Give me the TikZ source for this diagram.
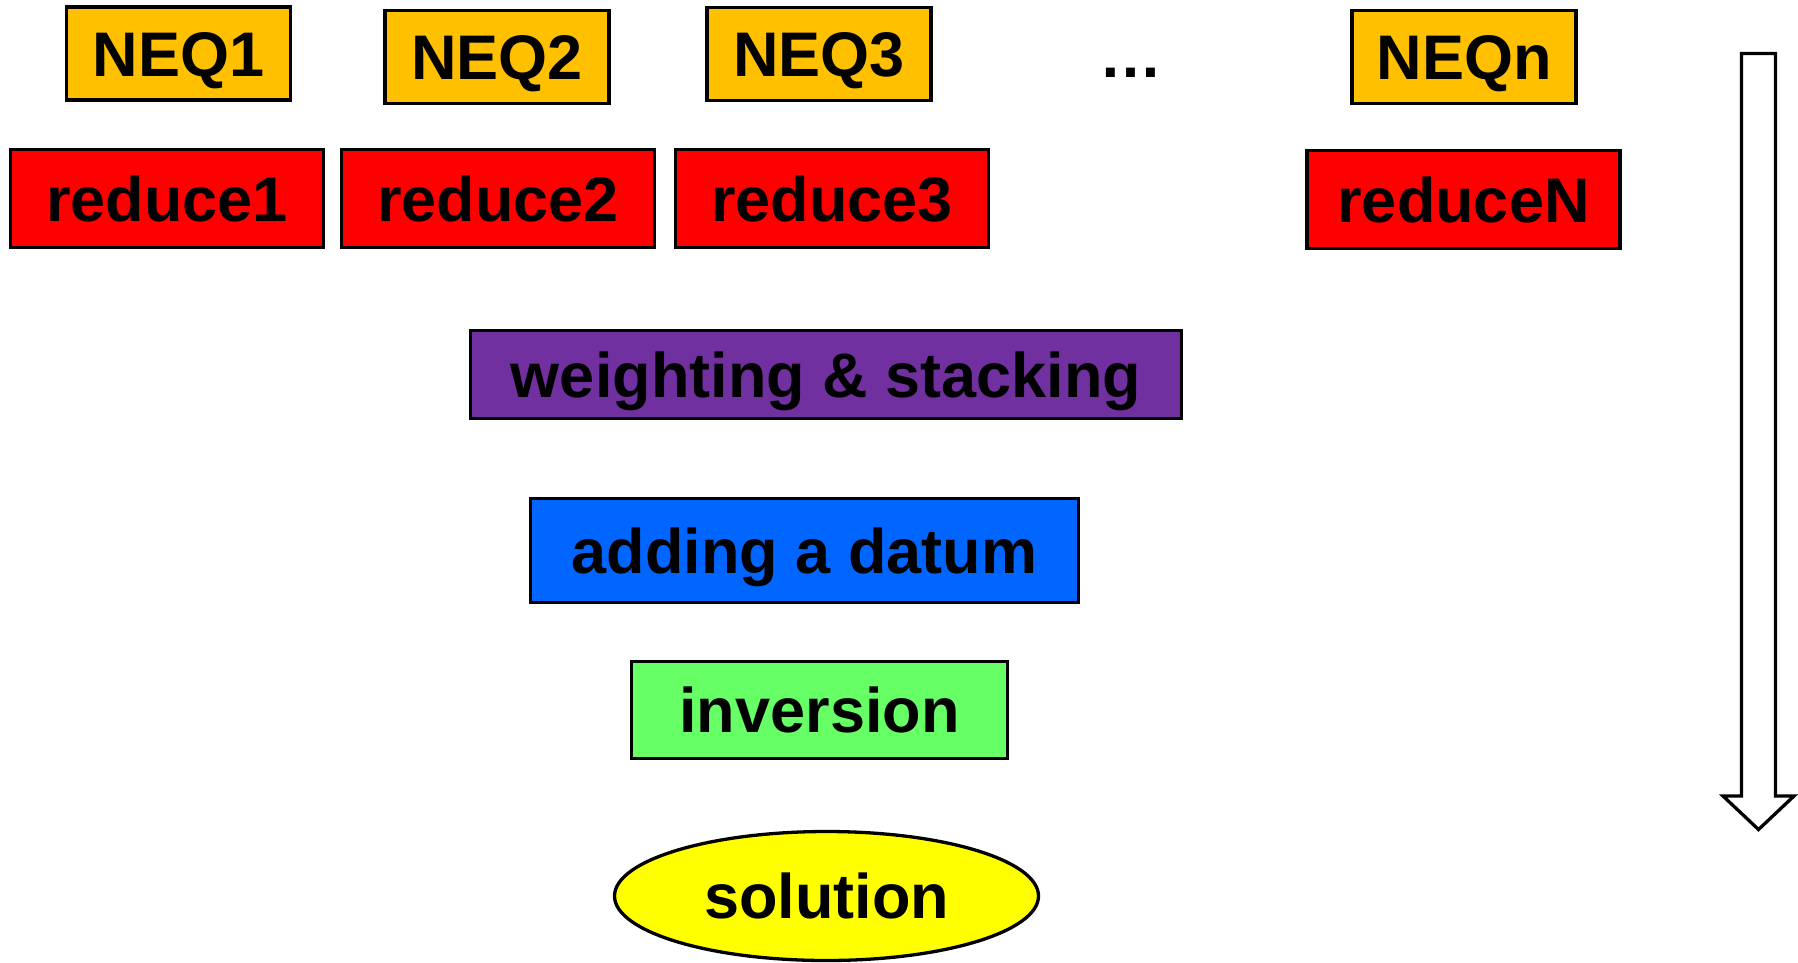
\documentclass[tikz,border=0pt]{standalone}
\usepackage{fontspec}
\setmainfont{Liberation Sans}
\usetikzlibrary{shapes.geometric}
\definecolor{neqc}{HTML}{FFC000}
\definecolor{redc}{HTML}{FF0000}
\definecolor{purc}{HTML}{7030A0}
\definecolor{bluc}{HTML}{0066FF}
\definecolor{grnc}{HTML}{66FF66}
\definecolor{yelc}{HTML}{FFFF00}
\tikzset{
  bx/.style={draw=black, line width=3.3pt, inner sep=0pt, text height=45pt, text depth=0pt,
    font=\fontsize{63}{63}\selectfont\bfseries, anchor=center},
  neq/.style={bx, fill=neqc, minimum width=224pt, minimum height=93pt},
  red/.style={bx, fill=redc, minimum width=313pt, minimum height=98pt},
}
\begin{document}
\begin{tikzpicture}[x=1pt,y=-1pt]
\useasboundingbox (0,0) rectangle (1798,962);
\fill[white] (0,0) rectangle (1798,962);
\node[neq] (neq1) at (178.5,53.5) {NEQ1};
\node[neq] (neq2) at (497,57) {NEQ2};
\node[neq] (neq3) at (819,54) {NEQ3};
\node[font=\fontsize{63}{63}\selectfont\bfseries, inner sep=0pt, anchor=base] (dots) at (1131,77) {…};
\node[neq] (neqn) at (1464,57) {NEQn};
\node[red] (red1) at (167,198.5) {reduce1};
\node[red] (red2) at (498,198.5) {reduce2};
\node[red] (red3) at (832,198.5) {reduce3};
\node[red] (redn) at (1463.5,199.5) {reduceN};
\node[bx, fill=purc, minimum width=711pt, minimum height=88pt] (wst) at (826,374.5) {weighting \& stacking};
\node[bx, fill=bluc, minimum width=548pt, minimum height=104pt] (add) at (804.5,550.5) {adding a datum};
\node[bx, fill=grnc, minimum width=376pt, minimum height=97pt] (inv) at (819.5,710) {inversion};
\node[bx, ellipse, fill=yelc, minimum width=424pt, minimum height=129pt] (sol) at (826.5,896) {solution};
\draw[line width=3.3pt, fill=white, line join=miter]
  (1741.5,53.5) -- (1775.5,53.5) -- (1775.5,796) -- (1794,796) -- (1758.5,829.5)
  -- (1723,796) -- (1741.5,796) -- cycle;
\end{tikzpicture}
\end{document}
